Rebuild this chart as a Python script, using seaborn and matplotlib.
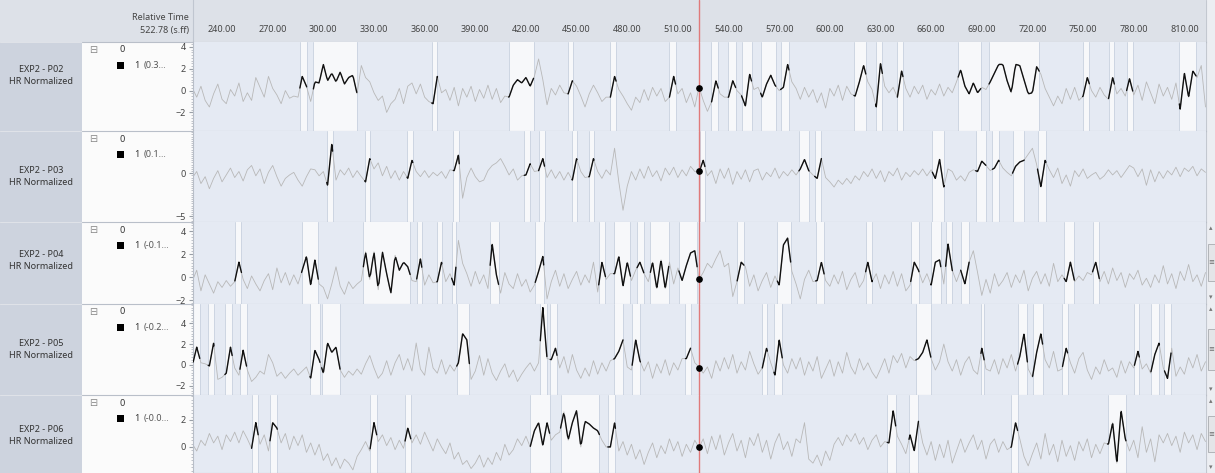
import numpy as np
import pandas as pd
import matplotlib
matplotlib.use('Agg')
import matplotlib.pyplot as plt
from matplotlib.patches import Rectangle
from matplotlib.ticker import MultipleLocator
import seaborn as sns

W, H = 1215, 473

# ---- data ----
cursor = 522.78
t_start, t_step = 222.5, 2.5
t_min, t_max = 222.8, 822.8
time_ticks = [240, 270, 300, 330, 360, 390, 420, 450, 480, 510,
              540, 570, 600, 630, 660, 690, 720, 750, 780, 810]

row_names = ['EXP2 - P02', 'EXP2 - P03', 'EXP2 - P04', 'EXP2 - P05', 'EXP2 - P06']
cursor_vals = ['(0.3...', '(0.1...', '(-0.1...', '(-0.2...', '(-0.0...']

p02 = [0.2, -0.6, 0.4, -0.9, -1.5, -0.3, 0.6, -0.8, -1.2, 0.1, -0.5, 0.7, -1.0, -0.2, -0.9, 1.2, 0.3, -0.6, 1.3, 0.2, -0.4, -1.2, 0.0, -0.7,
       -0.5, -0.6, 1.3, 0.4, -1.0, 0.8, 0.7, 2.4, 0.9, 1.6, 0.8, 1.7, 0.6, 1.2, 1.4, -0.3, 2.3, 1.2, 0.8, -0.2, -0.9, -0.5, -2.0, -1.2,
       -0.8, 0.2, -1.2, 0.4, 0.7, -0.3, 0.6, -0.6, -1.0, -1.2, 1.3, -0.2, 0.1, -0.9, 0.3, -1.4, 0.2, -0.6, 0.4, -1.0, 0.1, -0.7, 0.5, -0.8,
       0.2, -1.1, -0.5, -0.6, 0.5, 1.0, 0.7, 1.2, 0.4, 1.3, 2.9, 1.0, -1.3, 0.2, -0.4, 0.5, -0.2, -0.3, 0.9, 0.4, -0.5, -1.5, -0.3, 0.5,
       -0.2, -1.0, -0.6, -0.6, 1.3, 0.1, -0.5, -1.2, -1.8, -0.6, -1.1, 0.1, -0.9, 0.3, -0.5, 0.2, -1.0, -0.6, 1.3, -0.3, 0.2, -1.1, -0.2, -1.5,
       0.35, -0.9, -1.9, -1.0, 0.9, -0.3, -0.6, -0.6, 0.9, 0.0, -0.4, -1.4, 1.5, 0.1, 0.3, -0.6, 0.6, 1.4, 0.5, 0.0, 0.3, 2.4, 0.8, 0.2,
       -0.8, 0.3, -0.6, 0.1, -1.1, -0.2, -1.6, 0.2, -0.5, 0.5, -0.9, 0.4, -0.3, -0.5, 0.8, 2.3, 0.8, 0.1, -1.5, 2.5, 0.4, -0.2, 0.3, -0.6,
       1.8, 0.2, -0.6, 0.4, -0.3, 0.5, -0.8, 0.1, -0.4, 0.6, -0.5, 0.3, -0.2, 0.8, 1.9, 0.4, -0.3, 0.7, -0.2, 0.3, 0.1, 0.8, 1.6, 2.4,
       2.4, 0.9, -0.2, 2.4, 2.3, 1.0, -0.3, -0.2, 2.2, 1.5, 0.2, -0.6, -1.4, -0.5, -1.2, 0.2, -0.8, 0.3, -0.9, -0.5, 1.2, 0.0, -0.6, 0.3,
       -0.4, -0.8, 1.2, -0.3, 0.2, -0.5, 1.1, -0.4, 0.5, -0.9, 0.8, -0.2, -1.2, 0.6, -0.5, 0.3, -0.8, 0.7, -1.7, 1.6, -0.6, 1.8, 1.2, 2.3, -1.5]

p03 = [-0.5, 0.2, -1.2, -0.4, -1.8, -0.6, 0.3, -1.0, -0.2, 0.6, -0.5, 0.2, -0.9, 0.4, 0.9, -0.3, 0.5, -1.2, 0.1, 0.9, -0.4, -1.5, -0.6, -0.2,
       0.1, -0.8, -1.5, -0.4, 0.5, 0.4, -0.3, 0.2, -1.4, 3.4, -0.8, 0.4, -0.2, 0.6, -0.5, 0.3, -0.4, -1.0, 1.7, 0.5, 1.2, -0.3, 0.8, -0.6,
       0.3, -0.8, 0.2, -0.6, 1.5, 0.2, -0.4, 0.3, -0.5, 0.1, -0.3, 0.2, -0.6, 0.4, 0.3, 2.1, -2.9, -0.5, 0.6, -0.4, -1.0, -0.8, 0.3, 0.9,
       1.2, 1.7, 0.8, -0.2, 0.5, -0.8, -0.3, -0.2, 1.1, 0.2, 0.3, 1.7, -0.5, 0.4, -0.6, 0.2, -0.8, 0.1, -0.8, 1.7, 0.2, -0.5, -0.4, 1.7,
       0.2, -0.6, 0.4, -0.2, 2.9, -1.0, -4.3, -1.5, 0.2, -0.8, 0.5, -0.6, 0.8, -0.4, 0.3, -0.9, 0.6, -0.2, 0.7, -0.5, 0.4, -0.3, 0.8, 0.2,
       0.1, 1.5, -0.3, 0.3, -1.2, 0.5, -0.6, 0.6, -1.3, 0.2, -0.7, 0.4, -1.0, 0.3, 0.5, -0.8, 0.1, -0.4, 0.6, -0.6, 0.2, -0.3, 0.4, -0.2,
       0.5, 1.6, 0.3, -0.2, -0.6, 1.7, -0.5, -1.0, -1.6, -0.8, -1.3, -0.6, -1.2, -0.3, -0.8, 0.2, -0.4, 0.5, -0.6, 0.3, -1.0, 0.2, -0.3, 0.6,
       -0.8, 0.1, -0.4, 0.3, -0.2, 0.5, -0.3, 0.4, -0.6, 1.6, -1.6, 0.5, 0.2, -0.8, -0.3, -0.9, 0.1, 0.4, 0.2, 1.4, 0.9, 0.3, 0.6, 1.5,
       0.6, 0.1, -0.3, 0.8, 1.3, 1.5, 2.2, 2.9, 1.0, -1.6, 1.5, 0.4, -0.5, 0.6, -1.2, -0.2, -1.5, 0.3, -0.4, 0.5, -0.6, -0.2, 0.1, -0.7,
       -0.3, 0.4, -0.2, 0.3, -0.5, 0.2, 0.9, 0.6, -0.4, 0.5, -1.4, 0.4, -1.0, 0.2, -0.6, 0.3, -0.2, 0.7, -0.4, 0.6, 0.2, 0.8, -0.3, 0.5, 0.1]

p04 = [-0.3, 0.6, -1.2, 0.2, -0.6, -1.4, -0.4, -0.9, -0.3, -0.8, -0.4, 1.3, -0.2, -1.0, 0.1, -0.6, -1.2, -0.3, 0.3, -1.1, 0.8, -0.5, 0.4, -0.7,
       0.2, -0.6, 0.6, 1.8, -0.7, 1.5, -0.6, -0.9, -1.9, -0.6, 0.9, -0.8, -1.5, -0.4, -1.0, -0.6, -0.3, 2.2, -0.2, 2.2, -1.1, 2.2, 0.3, -1.4,
       1.9, 0.6, 1.3, 0.9, -0.3, -0.4, 1.6, -0.7, 0.2, -0.5, -0.4, 1.3, -0.4, 0.3, -0.7, 3.2, 1.2, 0.3, -0.8, 0.5, -0.6, 0.2, -1.0, 2.9,
       0.2, -1.4, 0.4, -0.6, -1.0, 0.3, -0.8, -0.2, -1.3, -0.7, 0.5, 1.8, -1.9, -0.4, 0.6, -0.8, 0.3, -1.0, -0.2, 0.5, -0.7, 0.2, -0.5, 1.3,
       -1.3, 1.3, -0.2, 0.3, 0.3, 1.8, -0.8, 1.3, -0.3, 0.6, 1.3, 0.3, -0.4, 1.3, -1.0, 1.5, -1.0, 1.3, -0.6, 0.8, -0.3, 1.0, 2.1, 2.3,
       -0.2, 0.4, 1.2, 0.8, 1.6, 2.3, 0.9, 1.2, -1.7, -0.4, 1.3, 0.9, -0.8, 0.2, -1.2, -0.3, 0.4, -0.9, 0.1, -0.7, 2.8, 3.4, 0.5, -0.6,
       -1.9, -0.2, 0.6, -0.4, -0.3, 1.3, -0.3, -0.8, 0.2, -0.6, 0.5, -1.1, -0.2, 0.4, -0.9, -0.3, 1.3, -0.4, 0.3, -1.0, 0.2, -0.6, 0.5, -0.8,
       0.3, -1.2, -0.7, 1.3, 0.6, -0.5, 0.3, -0.7, 1.3, 1.5, -0.6, 2.9, 0.6, -0.4, 0.6, -0.6, 1.3, 2.3, 0.4, -1.6, -0.2, -1.4, 0.3, -0.8,
       -0.3, 0.4, -0.9, 0.2, -0.5, 0.6, -1.2, -0.1, 0.5, -0.6, 0.3, -0.8, 1.2, -0.4, 0.2, -0.4, 1.3, -0.4, 0.1, -0.3, 0.4, 0.2, 1.3, -0.4,
       0.5, -0.6, 0.8, -0.3, 0.4, -0.9, 0.3, -0.2, 0.6, -0.7, -0.1, -0.9, 0.2, -0.5, 1.0, -0.6, 0.3, -1.0, 0.5, -0.3, 1.1, -0.4, 0.2, -0.8, 0.4]

p05 = [0.0, 1.7, 0.2, 0.1, -0.1, 2.1, -1.4, -1.2, -0.8, 1.7, -0.3, -1.0, 1.4, -0.5, -1.6, -1.2, -0.6, -0.9, 1.0, 0.2, -1.1, -0.7, -1.3, -0.8,
       -0.4, -1.0, -0.6, -0.2, -1.3, 1.4, 0.5, -0.8, 2.1, 1.2, 1.7, -0.5, -1.2, -0.6, -1.0, -0.4, -0.9, 0.1, 0.9, -0.3, -1.3, -0.8, 0.4, -1.0,
       0.2, 1.0, -0.5, 0.6, -0.6, 2.1, -0.4, -1.0, 1.7, -0.3, -0.8, 0.5, -0.9, 0.0, -0.6, 0.2, 3.0, 2.4, -1.4, -0.6, 0.9, -1.0, 0.6, -0.8,
       -1.5, -0.6, 0.1, -1.2, -0.5, -1.6, -0.9, -0.3, 0.2, -0.6, 0.2, 5.5, 0.6, 0.5, 1.6, -0.3, 0.8, -0.8, 1.0, -0.5, -1.3, -0.3, -1.1, 0.4,
       -0.9, 0.2, -0.6, 0.4, 0.6, 1.3, 2.4, -0.2, -0.5, 2.4, 0.4, -0.6, 0.3, -1.3, 0.1, -0.8, 0.5, -1.0, 0.2, -0.5, 0.6, 0.6, 1.6, 0.2,
       -0.2, -0.8, -0.2, -1.3, 0.4, -0.6, 0.7, -0.4, 1.0, -0.8, 0.3, -0.5, 1.3, 0.1, -0.9, -0.3, 1.6, 0.2, -1.0, 2.4, 0.0, -0.8, 0.6, -0.4,
       0.7, -1.0, 0.3, -0.6, 0.8, -1.3, -0.4, 0.5, -1.1, 0.3, -0.8, 1.2, -0.2, -0.9, 0.6, -0.5, 0.2, -0.7, -1.3, -0.4, 0.6, -0.8, 0.9, 0.2,
       1.1, -0.3, 0.8, 0.4, 0.6, 1.2, 2.4, 0.6, -0.5, 0.3, 2.0, 0.3, -0.6, 0.5, -1.0, 0.2, 0.8, -0.5, -0.9, 1.6, -0.4, -0.6, 0.5, -0.9,
       0.6, -0.3, 1.0, -0.6, 0.8, 3.0, -0.4, -1.2, 1.2, 3.0, 0.5, -0.3, 1.3, -0.6, -0.4, 1.6, 0.2, -0.8, 0.6, 1.2, -0.5, -1.4, -0.2, -0.9,
       0.5, -0.6, -0.3, -1.2, 0.4, -0.8, 0.3, -0.3, 1.3, -0.4, 0.1, -0.8, 1.0, 2.1, -0.3, -1.3, 1.6, -1.1, -0.2, -0.9, 0.7, -0.3, 1.0, -0.6, 0.3]

p06 = [0.2, -0.3, 0.5, 0.1, 1.0, 0.3, 0.8, -0.2, 0.9, 0.4, 1.1, 0.3, 1.2, 0.6, -0.1, 1.8, 0.2, 0.9, -0.3, 1.8, 1.4, 0.3, 1.0, -0.2,
       0.8, 0.1, 0.9, -0.4, 0.3, -0.6, 0.2, -1.0, -0.5, -1.4, -0.8, -1.6, -0.9, -1.2, -1.7, -0.7, -0.2, 0.4, -0.3, 1.8, 0.4, 0.9, 0.1, 0.7,
       -0.2, 0.5, -0.1, 1.4, 0.3, 0.9, 0.2, 1.1, 0.4, -0.3, 0.6, 0.0, -0.5, 0.3, -0.9, -0.4, -1.3, -1.0, -1.6, -1.2, -0.6, -1.5, -0.8, -1.3,
       -0.4, -1.0, 0.2, -0.6, -0.2, 0.6, 0.1, 0.8, 0.0, 1.2, 1.8, 0.1, 1.8, 0.5, 0.9, 1.1, 2.6, 0.5, 1.8, 2.7, 0.0, 1.9, 1.7, 1.4,
       1.2, 0.5, 0.0, 0.0, 1.8, -0.3, 0.4, -0.6, 0.2, -0.9, -0.2, -1.3, -0.4, 0.3, -0.8, 0.1, -0.5, 0.6, -0.3, 0.4, -0.7, 0.2, -0.4, 0.5,
       -0.05, 0.6, -0.5, 0.8, -0.2, 0.9, -0.6, 0.3, 1.0, -0.3, 0.5, -0.8, 0.7, 0.1, 1.0, -0.4, 0.5, -0.9, 0.3, 1.0, -0.2, 0.4, -0.7, 0.6,
       0.3, 1.8, -0.9, -1.2, -0.6, -1.4, -0.3, -1.0, 0.2, 0.7, 0.1, 0.9, 0.4, 1.0, 0.2, 0.7, -0.2, 0.5, 0.9, 0.0, 0.4, 0.3, 2.7, 0.8,
       0.2, -0.5, 0.9, -0.3, 1.9, 0.3, -0.6, 0.4, -1.0, 0.2, -0.8, 0.5, -1.2, -0.3, 0.6, -0.4, 0.3, 0.9, -0.2, 0.5, -0.9, 0.2, 0.6, -0.4,
       0.4, -0.2, 0.0, 1.8, 0.6, -0.7, -1.4, -0.5, 0.3, -0.9, 1.0, -0.6, 0.2, -1.1, 0.5, -0.7, 0.1, -1.0, 0.4, -0.3, 0.6, -0.8, 0.2, -0.5,
       0.3, 0.2, 1.8, -1.2, 2.7, 0.6, -0.3, 0.5, -0.8, 1.5, -0.4, 0.6, -1.1, 0.9, 0.3, 1.0, 0.1, 0.8, -0.4, 1.1, 0.3, 0.9, -0.2, 1.0, 0.4]

# highlighted intervals (s) where the trace is drawn black
p02_events = [(286.1, 290.1), (294.1, 319.8), (364.2, 367.6), (409.7, 424.5), (444.9, 447.6),
              (470.0, 473.4), (505.0, 508.6), (529.9, 533.9), (539.8, 544.2), (547.7, 553.6),
              (559.0, 568.0), (570.8, 575.8), (614.3, 621.3), (627.1, 631.1), (640.0, 643.3),
              (676.0, 689.4), (694.3, 724.0), (749.7, 753.7), (765.1, 768.5), (775.8, 779.4),
              (807.0, 816.9)]
p03_events = [(302.0, 305.5), (324.5, 327.7), (349.6, 353.0), (377.0, 380.5), (419.0, 422.6),
              (427.5, 431.0), (447.3, 450.2), (457.2, 460.3), (522.8, 526.0), (581.7, 587.7),
              (591.0, 595.0), (660.7, 667.7), (686.4, 692.4), (696.3, 700.3), (708.2, 715.1),
              (723.0, 728.0)]
p04_events = [(247.6, 251.5), (287.1, 297.0), (323.7, 351.4), (355.3, 358.3), (367.2, 370.2),
              (376.0, 378.5), (398.8, 403.8), (425.5, 430.5), (463.1, 467.1), (472.0, 481.9),
              (485.8, 489.8), (493.7, 504.6), (510.6, 521.4), (545.1, 549.1), (568.9, 576.8),
              (591.6, 596.6), (621.2, 625.2), (647.9, 652.8), (659.8, 665.7), (668.6, 672.6),
              (677.5, 682.5), (738.8, 744.8), (755.6, 759.6)]
p05_events = [(222.9, 226.8), (231.8, 235.2), (241.7, 246.0), (250.6, 254.5), (292.1, 298.0),
              (299.0, 309.9), (379.0, 386.5), (428.5, 432.4), (434.4, 438.4), (472.0, 477.5),
              (482.9, 487.8), (514.5, 517.5), (560.0, 563.0), (566.9, 571.8), (650.9, 659.8),
              (689.5, 691.4), (711.2, 717.0), (720.1, 726.0), (737.8, 740.8), (780.4, 783.3),
              (790.2, 795.2), (798.2, 802.1)]
p06_events = [(257.5, 261.4), (268.4, 272.7), (327.7, 331.6), (348.4, 351.8), (422.6, 434.0),
              (440.5, 463.5), (468.5, 473.0), (634.0, 639.0), (646.9, 652.5), (707.2, 711.2),
              (764.5, 775.4)]

series = [p02, p03, p04, p05, p06]
events = [p02_events, p03_events, p04_events, p05_events, p06_events]
ylims = [(-3.7, 4.45), (-5.66, 4.9), (-2.3, 4.8), (-2.9, 5.9), (-1.93, 3.85)]
yticks = [[-2, 0, 2, 4], [-5, 0], [-2, 0, 2, 4], [-2, 0, 2, 4], [0, 2]]

# ---- layout (pixels) ----
row_edges = [42, 131, 222, 303.5, 395, 473]
label_y = [76, 176, 260, 349, 435]
x_plot0, x_plot1 = 193, 1206

header_c = '#dde1e8'
label_c = '#cdd3de'
legend_c = '#fbfbfb'
plot_c = '#e5eaf3'
band_c = '#f7f8fa'
edge_c = '#cdd5e2'
sep_c = '#b9bfc9'
grey_c = '#b8b8b8'
red_c = '#e07a7a'

sns.set_style('white')
plt.rcParams['font.family'] = ['Noto Sans', 'DejaVu Sans']

fig = plt.figure(figsize=(W / 100, H / 100), dpi=100)
fig.patch.set_facecolor('white')

bg = fig.add_axes([0, 0, 1, 1])
bg.set_xlim(0, W)
bg.set_ylim(H, 0)
bg.axis('off')
bg.add_patch(Rectangle((0, 0), W, 42, color=header_c, lw=0))
bg.add_patch(Rectangle((0, 42), 82, H - 42, color=label_c, lw=0))
bg.add_patch(Rectangle((82, 42), x_plot0 - 82, H - 42, color=legend_c, lw=0))
bg.add_patch(Rectangle((x_plot1, 0), W - x_plot1, H, color='#eceef2', lw=0))
bg.plot([x_plot1, x_plot1], [0, H], color='#c3c8d0', lw=0.8)
for y in row_edges[:-1]:
    bg.plot([0, 82], [y, y], color='#dfe2e8', lw=0.8)
    bg.plot([82, x_plot1], [y, y], color=sep_c, lw=0.8)

bg.text(189, 17, 'Relative Time', ha='right', va='center', fontsize=6.5, color='#444')
bg.text(189, 30, '522.78 (s.ff)', ha='right', va='center', fontsize=6.5, color='#444')

for i, name in enumerate(row_names):
    top = row_edges[i]
    bg.text(41, label_y[i] - 6, name, ha='center', va='center', fontsize=6.5, color='#333')
    bg.text(41, label_y[i] + 6, 'HR Normalized', ha='center', va='center', fontsize=6.5, color='#333')
    bg.text(93, top + 8, '\u229f', ha='center', va='center', fontsize=7, color='#888',
            family='DejaVu Sans')
    bg.text(122, top + 8, '0', ha='center', va='center', fontsize=6.5, color='#333')
    bg.add_patch(Rectangle((117, top + 20), 7, 7, color='black', lw=0))
    bg.text(137, top + 23.5, '1', ha='center', va='center', fontsize=6.5, color='#333')
    bg.text(144, top + 23.5, cursor_vals[i], ha='left', va='center', fontsize=6.5, color='#555')

# scrollbars on the lower three rows
for i in [2, 3, 4]:
    top, bot = row_edges[i], row_edges[i + 1]
    bg.text(1211, top + 6, '\u25b4', ha='center', va='center', fontsize=5, color='#777',
            family='DejaVu Sans')
    bg.text(1211, min(bot - 6, H - 3), '\u25be', ha='center', va='center', fontsize=5,
            color='#777', family='DejaVu Sans')
    th = (bot - top) * 0.45
    ty = top + (bot - top - th) / 2
    bg.add_patch(Rectangle((1208, ty), 6.5, th, facecolor='#e4e5e8', edgecolor='#a8abb0', lw=0.6))
    bg.text(1211.5, ty + th / 2, '\u2261', ha='center', va='center', fontsize=5, color='#666',
            family='DejaVu Sans')


def px_axes(x0, y0, x1, y1):
    return fig.add_axes([x0 / W, 1 - y1 / H, (x1 - x0) / W, (y1 - y0) / H])


# time ruler
axh = px_axes(x_plot0, 0, x_plot1, 42)
axh.set_facecolor(header_c)
axh.set_xlim(t_min, t_max)
axh.set_ylim(0, 1)
axh.set_yticks([])
axh.set_xticks(time_ticks)
axh.xaxis.set_minor_locator(MultipleLocator(5))
axh.tick_params(axis='x', which='major', direction='in', length=4, color='#8a8f98',
                labelbottom=False)
axh.tick_params(axis='x', which='minor', direction='in', length=2, color='#a0a5ad')
for sp in ['top', 'right']:
    axh.spines[sp].set_visible(False)
axh.spines['bottom'].set_color(sep_c)
axh.spines['left'].set_color('#c0c6d0')
for tk in time_ticks:
    axh.text(tk, 0.29, f'{tk:.2f}', ha='center', va='center', fontsize=6.5, color='#444')
axh.axvline(cursor, color=red_c, lw=1)

for i in range(5):
    v = np.array(series[i])
    t = t_start + t_step * np.arange(len(v))
    ax = px_axes(x_plot0, row_edges[i], x_plot1, row_edges[i + 1])
    ax.set_facecolor(plot_c)

    for s, e in events[i]:
        ax.axvspan(s, e, color=band_c, lw=0, zorder=0.5)
        ax.axvline(s, color=edge_c, lw=0.7, zorder=0.6)
        ax.axvline(e, color=edge_c, lw=0.7, zorder=0.6)

    sns.lineplot(x=t, y=v, ax=ax, color=grey_c, lw=0.6, estimator=None, zorder=2)

    segs = []
    for k, (s, e) in enumerate(events[i]):
        tt = np.linspace(s, e, 40)
        segs.append(pd.DataFrame({'t': tt, 'v': np.interp(tt, t, v), 'seg': k}))
    seg_df = pd.concat(segs, ignore_index=True)
    sns.lineplot(data=seg_df, x='t', y='v', units='seg', estimator=None, ax=ax,
                 color='#111111', lw=1.0, legend=False, zorder=3)

    ax.axvline(cursor, color=red_c, lw=1, zorder=4)
    ax.plot([cursor], [np.interp(cursor, t, v)], 'o', color='black', ms=3.8, zorder=5)

    ax.set_xlim(t_min, t_max)
    ax.set_ylim(*ylims[i])
    ax.set_xticks([])
    ax.set_yticks(yticks[i])
    ax.yaxis.set_minor_locator(MultipleLocator(0.25))
    ax.tick_params(axis='y', which='major', length=3, color='#9aa0a8', labelsize=6.5,
                   labelcolor='#444', pad=2, left=True)
    ax.tick_params(axis='y', which='minor', length=1.5, color='#b5bac2', left=True)
    ax.set_xlabel('')
    ax.set_ylabel('')
    ax.spines['top'].set_visible(False)
    ax.spines['right'].set_visible(False)
    ax.spines['left'].set_color('#b8bec8')
    ax.spines['bottom'].set_color(sep_c)
    ax.spines['bottom'].set_linewidth(0.8)

fig.savefig('out.png', dpi=100)
